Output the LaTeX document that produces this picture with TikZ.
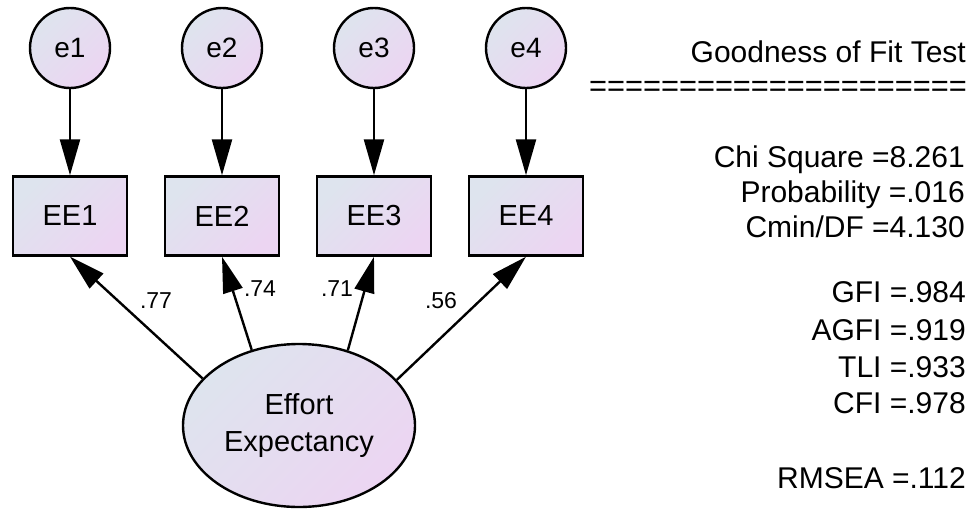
\documentclass[tikz,border=0pt]{standalone}
\usepackage{fontspec}
\setmainfont{Liberation Sans}
\usetikzlibrary{arrows.meta,shapes.geometric}

\definecolor{fillA}{RGB}{222,228,238}
\definecolor{fillB}{RGB}{236,213,242}

\tikzset{
  shadedfill/.style={top color=fillA, bottom color=fillB, shading angle=45},
  errvar/.style={circle, draw=black, line width=2.4pt, shadedfill,
    minimum size=80pt, inner sep=0pt, font=\fontsize{28}{32}\selectfont},
  obsvar/.style={rectangle, draw=black, line width=2.4pt, shadedfill,
    minimum width=114pt, minimum height=79pt, inner sep=0pt,
    font=\fontsize{29}{33}\selectfont},
  latvar/.style={ellipse, draw=black, line width=2.4pt, shadedfill,
    minimum width=232pt, minimum height=163pt, inner sep=0pt, align=center,
    font=\fontsize{29}{37}\selectfont},
  pathline/.style={line width=2.4pt, -{Triangle[length=36pt,width=20pt]}},
  coef/.style={anchor=base, inner sep=0pt, font=\fontsize{23}{26}\selectfont},
  fitline/.style={anchor=base east, inner sep=0pt, font=\fontsize{30}{34}\selectfont}
}

\begin{document}
\begin{tikzpicture}[x=1pt, y=-1pt]
\useasboundingbox (0,0) rectangle (973,511);

% error terms
\node[errvar] (e1) at (70,48)  {e1};
\node[errvar] (e2) at (222,48) {e2};
\node[errvar] (e3) at (374,48) {e3};
\node[errvar] (e4) at (526,48) {e4};

% observed indicators
\node[obsvar] (EE1) at (70,216)  {EE1};
\node[obsvar] (EE2) at (222,216) {EE2};
\node[obsvar] (EE3) at (374,216) {EE3};
\node[obsvar] (EE4) at (526,216) {EE4};

% latent construct
\node[latvar] (lat) at (299,425.5) {Effort\\Expectancy};

% error paths
\foreach \i in {1,...,4}
  \draw[pathline] (e\i.south) -- (EE\i.north);

% loadings
\draw[pathline] (lat.154.6) -- (EE1.south);
\draw[pathline] (lat.122.3) -- (EE2.south);
\draw[pathline] (lat.57.7)  -- (EE3.south);
\draw[pathline] (lat.25.4)  -- (EE4.south);

\node[coef] (c1) at (156,308) {.77};
\node[coef] (c2) at (260,296) {.74};
\node[coef] (c3) at (337,296) {.71};
\node[coef] (c4) at (441,308) {.56};

% fit statistics
\node[fitline] (t0) at (966,63)  {Goodness of Fit Test};
\node[fitline, font=\fontsize{30.8}{34}\selectfont] (t1) at (967,96) {=====================};
\node[fitline] (t2) at (965,167) {Chi Square =8.261};
\node[fitline] (t3) at (965,202) {Probability =.016};
\node[fitline] (t4) at (965,237) {Cmin/DF =4.130};
\node[fitline] (t5) at (966,302) {GFI =.984};
\node[fitline] (t6) at (966,340) {AGFI =.919};
\node[fitline] (t7) at (966,377) {TLI =.933};
\node[fitline] (t8) at (966,413) {CFI =.978};
\node[fitline] (t9) at (966,488) {RMSEA =.112};
\end{tikzpicture}
\end{document}
